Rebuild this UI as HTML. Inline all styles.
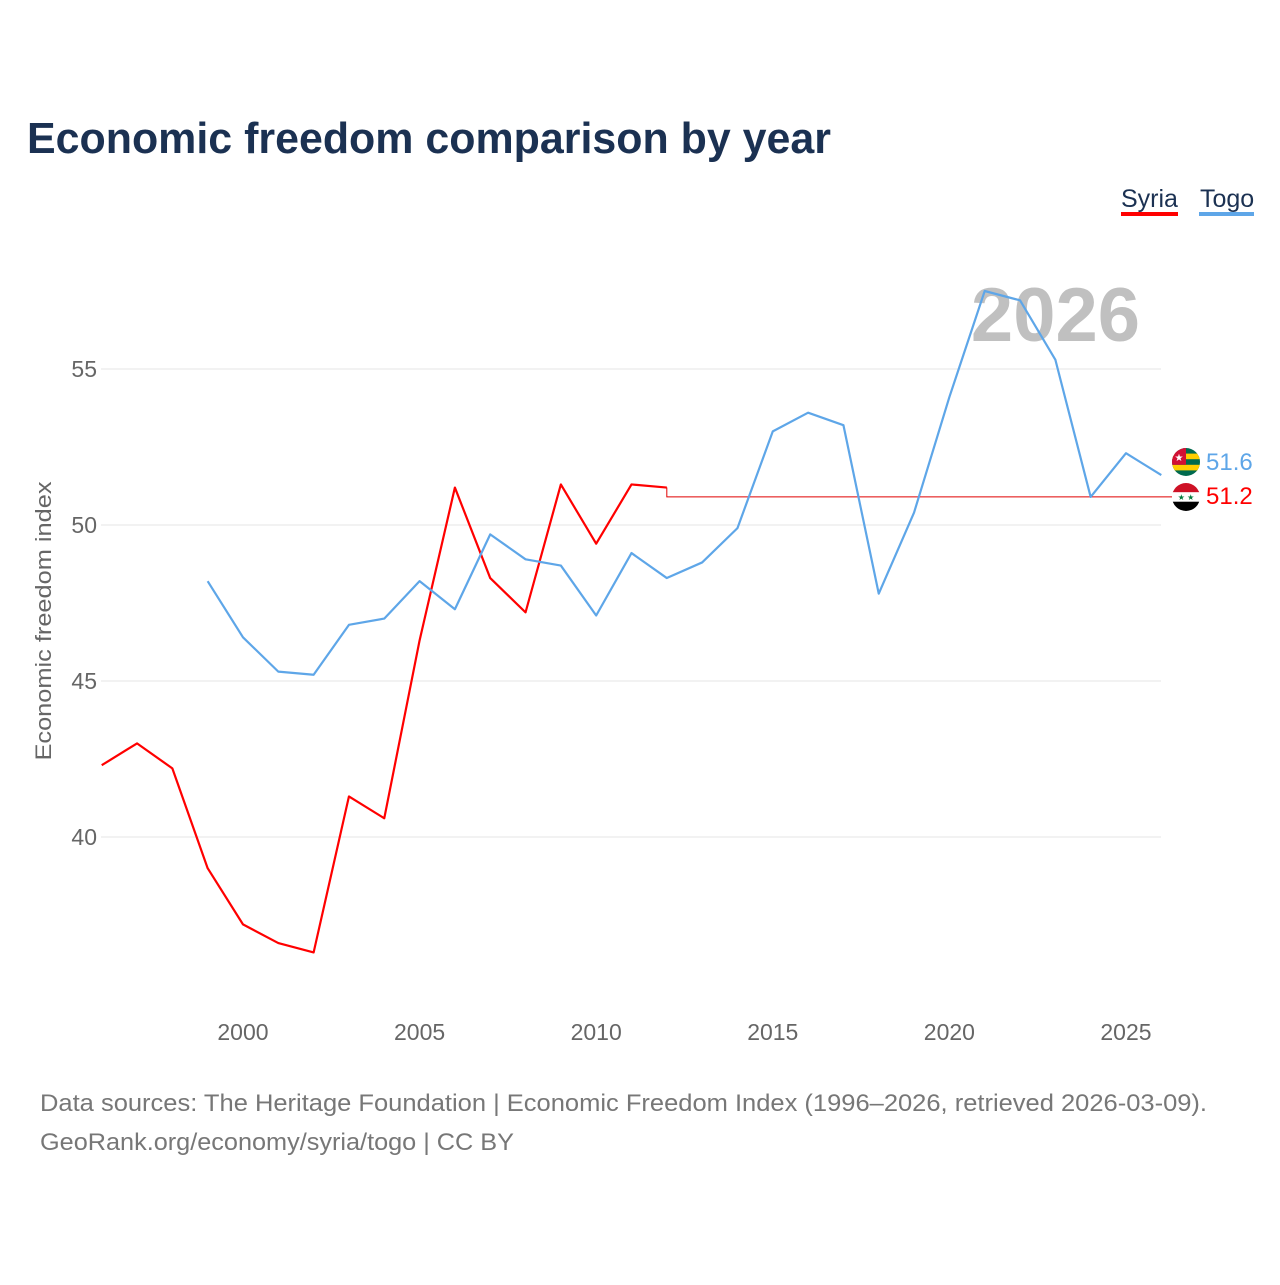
<!DOCTYPE html>
<html><head><meta charset="utf-8"><style>
body{margin:0;background:#fff;font-family:"Liberation Sans",sans-serif}
svg text{font-family:"Liberation Sans",sans-serif}
</style></head><body>
<svg width="1280" height="1280">
<text x="27" y="153" font-size="44" font-weight="bold" fill="#1b3152" textLength="804" lengthAdjust="spacingAndGlyphs">Economic freedom comparison by year</text>
<g>
<text x="1121" y="207" font-size="25" fill="#1b3152">Syria</text>
<rect x="1121" y="212" width="57" height="4" fill="#ff0000"/>
<text x="1200" y="207" font-size="25" fill="#1b3152">Togo</text>
<rect x="1199" y="212" width="55" height="4" fill="#5ea6e8"/>
</g>
<text x="1140" y="341" font-size="76" font-weight="bold" fill="#c0c0c0" text-anchor="end">2026</text>
<g id="grid"></g>
<g id="xaxis"></g>
<text transform="translate(51,621) rotate(-90)" font-size="22" fill="#666" text-anchor="middle" textLength="279" lengthAdjust="spacingAndGlyphs">Economic freedom index</text>
<g id="series"></g>
<g>
<clipPath id="c1"><circle cx="1186" cy="462" r="14"/></clipPath>
<g clip-path="url(#c1)">
<rect x="1172" y="448" width="28" height="28" fill="#006a4e"/>
<rect x="1172" y="453.6" width="28" height="5.6" fill="#ffce00"/>
<rect x="1172" y="464.8" width="28" height="5.6" fill="#ffce00"/>
<rect x="1172" y="448" width="14" height="16.8" fill="#d21034"/>
<text x="1179" y="461" font-size="10" fill="#fff" text-anchor="middle">★</text>
</g>
<text x="1206" y="470" font-size="24" fill="#5ea6e8">51.6</text>
<clipPath id="c2"><circle cx="1186" cy="497" r="14"/></clipPath>
<g clip-path="url(#c2)">
<rect x="1172" y="483" width="28" height="9.3" fill="#ce1126"/>
<rect x="1172" y="492.3" width="28" height="9.4" fill="#fff"/>
<rect x="1172" y="501.7" width="28" height="9.3" fill="#000"/>
<text x="1186" y="500" font-size="8" fill="#007a3d" text-anchor="middle">★ ★</text>
</g>
<text x="1206" y="504" font-size="24" fill="#ff0000">51.2</text>
</g>
<text x="40" y="1111" font-size="24" fill="#777" textLength="1167" lengthAdjust="spacingAndGlyphs">Data sources: The Heritage Foundation | Economic Freedom Index (1996–2026, retrieved 2026-03-09).</text>
<text x="40" y="1150" font-size="24" fill="#777" textLength="474" lengthAdjust="spacingAndGlyphs">GeoRank.org/economy/syria/togo | CC BY</text>
</svg>
<script>
const years=[1996,1997,1998,1999,2000,2001,2002,2003,2004,2005,2006,2007,2008,2009,2010,2011,2012,2013,2014,2015,2016,2017,2018,2019,2020,2021,2022,2023,2024,2025,2026];
const syria=[42.3,43.0,42.2,39.0,37.2,36.6,36.3,41.3,40.6,46.3,51.2,48.3,47.2,51.3,49.4,51.3,51.2,null,null,null,null,null,null,null,null,null,null,null,null,null,null];
const togo=[null,null,null,48.2,46.4,45.3,45.2,46.8,47.0,48.2,47.3,49.7,48.9,48.7,47.1,49.1,48.3,48.8,49.9,53.0,53.6,53.2,47.8,50.4,54.1,57.5,57.2,55.3,50.9,52.3,51.6];
const syriaCarry=50.9;
const yTicks=[40,45,50,55];
const xTicks=[2000,2005,2010,2015,2020,2025];
const NS="http://www.w3.org/2000/svg";
const x=y=>101.7+(y-1996)*35.32;
const yv=v=>525-(v-50)*31.2;
function mk(t,a,p){const e=document.createElementNS(NS,t);for(const k in a)e.setAttribute(k,a[k]);p.appendChild(e);return e;}
const grid=document.getElementById('grid');
yTicks.forEach(t=>{
 const l=mk('line',{x1:101,x2:1161,y1:yv(t),y2:yv(t),stroke:'#e6e6e6','stroke-width':1},grid);
 
 
 const tx=mk('text',{x:97,y:yv(t)+8,'font-size':23,fill:'#666','text-anchor':'end'},grid);
 tx.textContent=t;
 
 
});
const xa=document.getElementById('xaxis');
xTicks.forEach(t=>{
 const tx=mk('text',{x:x(t),y:1040,'font-size':23,fill:'#666','text-anchor':'middle'},xa);
 tx.textContent=t;
 
 
});
const sg=document.getElementById('series');
function path(vals,col,name){
 let d='';let started=false;
 vals.forEach((v,i)=>{if(v==null)return;d+=(started?'L':'M')+x(years[i])+','+yv(v);started=true;});
 const p=mk('path',{d:d,fill:'none',stroke:col,'stroke-width':2.2,'stroke-linejoin':'round'},sg);
 
 
}
let li=0;syria.forEach((v,i)=>{if(v!=null)li=i;});
const cp=mk('path',{d:'M'+x(years[li])+','+yv(syria[li])+'V'+yv(syriaCarry)+'H1172',fill:'none',stroke:'#e00000','stroke-width':1},sg);


path(syria,'#ff0000','syria-line');
path(togo,'#5ea6e8','togo-line');
</script>
</body></html>
